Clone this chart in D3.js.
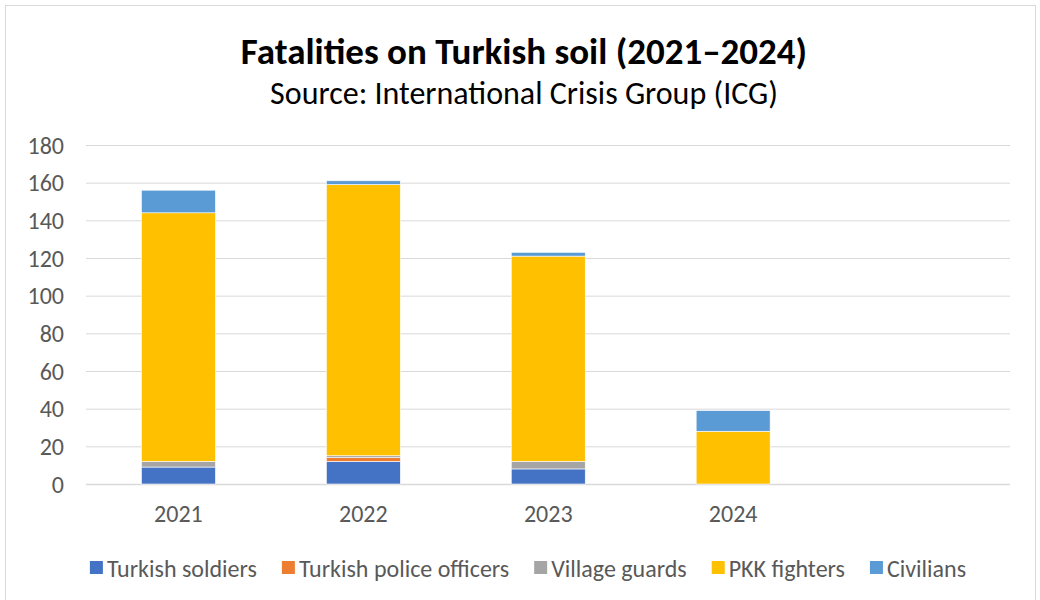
<!DOCTYPE html>
<html>
<head>
<meta charset="utf-8">
<script src="https://cdn.jsdelivr.net/npm/d3@7"></script>
<style>
body { margin: 0; background: #fff; }
svg { display: block; }
text { font-family: Carlito, "Liberation Sans Narrow", "Open Sans", sans-serif; }
</style>
</head>
<body>
<script>
let width = 1040;
let height = 600;
let margin = { top: 145, right: 30, bottom: 116, left: 86 };

let years = ["2021", "2022", "2023", "2024", ""];
let series = ["Turkish soldiers", "Turkish police officers", "Village guards", "PKK fighters", "Civilians"];
let colors = ["#4472C4", "#ED7D31", "#A5A5A5", "#FFC000", "#5B9BD5"];
let soldiers = [9, 12, 8, 0];
let police = [0, 2, 0, 0];
let guards = [3, 1, 4, 0];
let pkk = [132, 144, 109, 28];
let civilians = [12, 2, 2, 11];
let yTicks = [0, 20, 40, 60, 80, 100, 120, 140, 160, 180];

let values = [soldiers, police, guards, pkk, civilians];
let rows = years.slice(0, 4).map((y, i) => {
	let r = { year: y };
	series.forEach((s, j) => r[s] = values[j][i]);
	return r;
});

let svg = d3.select("body").append("svg")
	.attr("width", width)
	.attr("height", height);

svg.append("rect")
	.attr("x", 5.5).attr("y", 5.5)
	.attr("width", width - 10).attr("height", height + 10)
	.attr("fill", "#fff")
	.attr("stroke", "#d9d9d9");

svg.append("text")
	.text("Fatalities on Turkish soil (2021–2024)")
	.attr("x", 524).attr("y", 64)
	.attr("text-anchor", "middle")
	.style("font-size", "37px")
	.style("font-weight", "bold")
	.attr("fill", "#000");

svg.append("text")
	.text("Source: International Crisis Group (ICG)")
	.attr("x", 524).attr("y", 104)
	.attr("text-anchor", "middle")
	.style("font-size", "32px")
	.attr("fill", "#000");

let x = d3.scaleBand()
	.domain(years)
	.range([margin.left, width - margin.right + 0.5])
	.paddingInner(0.6)
	.paddingOuter(0.3);

let y = d3.scaleLinear()
	.domain([0, 180])
	.range([height - margin.bottom, margin.top]);

// gridlines
svg.append("g")
	.selectAll("line")
	.data(yTicks)
	.enter()
	.append("line")
	.attr("x1", margin.left)
	.attr("x2", width - margin.right)
	.attr("y1", d => y(d) + 0.5)
	.attr("y2", d => y(d) + 0.5)
	.attr("stroke", "#d9d9d9")
	.attr("stroke-width", d => d === 0 ? 1.5 : 1);

let yAxis = svg.append("g")
	.attr("transform", `translate(${margin.left - 22},0)`)
	.call(d3.axisLeft(y).tickValues(yTicks).tickSize(0).tickPadding(0));
yAxis.select(".domain").remove();
yAxis.selectAll("text")
	.attr("fill", "#595959")
	.style("font-size", "24px")
	.attr("dy", "0.34em");

let xAxis = svg.append("g")
	.attr("transform", `translate(0,${height - margin.bottom})`)
	.call(d3.axisBottom(x).tickSize(0).tickPadding(24));
xAxis.select(".domain").remove();
xAxis.selectAll("text")
	.attr("fill", "#595959")
	.style("font-size", "24px")
	.attr("dy", "0.6em");

let stack = d3.stack().keys(series)(rows);

svg.append("g")
	.selectAll("g")
	.data(stack)
	.enter()
	.append("g")
	.attr("fill", (d, i) => colors[i])
	.selectAll("rect")
	.data(d => d)
	.enter()
	.append("rect")
	.attr("x", d => x(d.data.year))
	.attr("width", x.bandwidth())
	.attr("y", d => y(d[1]))
	.attr("height", d => y(d[0]) - y(d[1]))
	.attr("stroke", "#fff")
	.attr("stroke-width", 0.6);

// legend
let legend = svg.append("g");
let items = legend.selectAll("g")
	.data(series)
	.enter()
	.append("g");
items.append("rect")
	.attr("width", 13).attr("height", 13)
	.attr("y", -12)
	.attr("fill", (d, i) => colors[i]);
items.append("text")
	.text(d => d)
	.attr("x", 17)
	.attr("y", 0)
	.attr("dy", "0.15em")
	.attr("fill", "#595959")
	.style("font-size", "24px");

let gap = 25;
let widths = [];
items.each(function() { widths.push(this.getBBox().width); });
let total = d3.sum(widths) + gap * (widths.length - 1);
let cx = 84 + (972 - 84) / 2 - total / 2;
items.attr("transform", (d, i) => {
	let t = `translate(${cx},573)`;
	cx += widths[i] + gap;
	return t;
});
</script>
</body>
</html>
